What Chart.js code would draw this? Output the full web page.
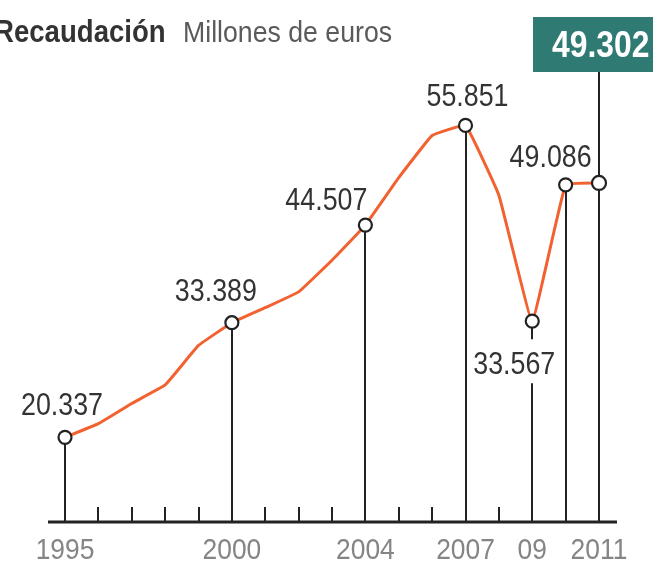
<!DOCTYPE html>
<html>
<head>
<meta charset="utf-8">
<script src="https://cdn.jsdelivr.net/npm/chart.js@4.4.1/dist/chart.umd.min.js"></script>
<style>
  html, body { margin: 0; padding: 0; background: #fff; }
  canvas { display: block; }
</style>
</head>
<body>
<canvas id="grafico" width="653" height="561"></canvas>
<script>
// Recaudación, millones de euros (miles en el gráfico)
const years = [1995, 1996, 1997, 1998, 1999, 2000, 2001, 2002, 2003, 2004, 2005, 2006, 2007, 2008, 2009, 2010, 2011];
const recaudacion = [20.337, 21.9, 24.2, 26.3, 30.8, 33.389, 35.1, 36.9, 40.5, 44.507, 49.9, 54.7, 55.851, 47.9, 33.567, 49.086, 49.302];
const labeledYears = [1995, 2000, 2004, 2007, 2009, 2010, 2011];
const tickYears = [1995, 2000, 2004, 2007, 2009, 2011];
const tickLabels = ['1995', '2000', '2004', '2007', '09', '2011'];
const highlightYear = 2011;

// desplazamiento de las etiquetas respecto al punto (dx, dy hasta la línea base)
const labelOffsets = {
    1995: [-3, -22],
    2000: [-16, -22],
    2004: [-39, -15],
    2007: [2, -19],
    2009: [-18, 53],
    2010: [-15, -18],
};

const ctx = document.getElementById('grafico').getContext('2d');

function fmt(v) {
    return v.toFixed(3);
}

// texto estrecho (simula una fuente condensada)
function narrowText(c, text, x, y, font, color, align, sx) {
    c.save();
    c.font = font;
    c.fillStyle = color;
    c.textAlign = 'left';
    c.textBaseline = 'alphabetic';
    const w = c.measureText(text).width * sx;
    let left = x;
    if (align === 'center') left = x - w / 2;
    if (align === 'right') left = x - w;
    c.translate(left, y);
    c.scale(sx, 1);
    c.fillText(text, 0, 0);
    c.restore();
}

const decoraciones = {
    id: 'decoraciones',
    beforeDatasetsDraw(chart) {
        const c = chart.ctx;
        const xs = chart.scales.x;
        const ys = chart.scales.y;
        const base = ys.getPixelForValue(ys.min);
        c.save();
        c.strokeStyle = '#222';
        c.lineCap = 'butt';
        // líneas verticales y marcas menores
        years.forEach((yr, i) => {
            const x = Math.round(xs.getPixelForValue(yr));
            c.lineWidth = 2;
            c.beginPath();
            if (labeledYears.includes(yr)) {
                const py = ys.getPixelForValue(recaudacion[i]);
                if (yr === 2009) {
                    c.moveTo(x, py);
                    c.lineTo(x, py + 18);
                    c.moveTo(x, py + 62);
                    c.lineTo(x, base);
                } else if (yr === highlightYear) {
                    c.moveTo(x, 72);
                    c.lineTo(x, base);
                } else {
                    c.moveTo(x, py);
                    c.lineTo(x, base);
                }
            } else {
                c.moveTo(x, base - 15);
                c.lineTo(x, base);
            }
            c.stroke();
        });
        // eje
        c.lineWidth = 3;
        c.beginPath();
        c.moveTo(xs.getPixelForValue(1995) - 17, base);
        c.lineTo(xs.getPixelForValue(2011) + 18, base);
        c.stroke();
        c.restore();

        tickYears.forEach((yr, i) => {
            narrowText(c, tickLabels[i], xs.getPixelForValue(yr), base + 37,
                '30px "Liberation Sans", Arial, sans-serif', '#858585', 'center', 0.88);
        });
    },
    afterDatasetsDraw(chart) {
        const c = chart.ctx;
        const xs = chart.scales.x;
        const ys = chart.scales.y;
        years.forEach((yr, i) => {
            const off = labelOffsets[yr];
            if (!off) return;
            const x = xs.getPixelForValue(yr);
            const y = ys.getPixelForValue(recaudacion[i]);
            narrowText(c, fmt(recaudacion[i]), x + off[0], y + off[1],
                '31px "Liberation Sans", Arial, sans-serif', '#333', 'center', 0.865);
        });

        // recuadro destacado
        const hx = xs.getPixelForValue(highlightYear);
        const hv = recaudacion[years.indexOf(highlightYear)];
        c.save();
        c.fillStyle = '#2f7b74';
        c.fillRect(hx - 66, 17, 140, 55);
        c.restore();
        narrowText(c, fmt(hv), hx - 47, 57,
            'bold 37px "Liberation Sans", Arial, sans-serif', '#fff', 'left', 0.86);

        // título
        narrowText(c, 'Recaudación', -6, 42,
            'bold 31px "Liberation Sans", Arial, sans-serif', '#333', 'left', 0.89);
        narrowText(c, 'Millones de euros', 183, 42,
            '29px "Liberation Sans", Arial, sans-serif', '#5a5a5a', 'left', 0.92);
    }
};

const chart = new Chart(ctx, {
    type: 'line',
    data: {
        datasets: [{
            data: years.map((yr, i) => ({ x: yr, y: recaudacion[i] })),
            borderColor: '#f26130',
            borderWidth: 3,
            tension: 0.08,
            fill: false,
            clip: false,
            pointRadius: years.map((yr) => (labeledYears.includes(yr) ? (yr === highlightYear ? 7 : 6.5) : 0)),
            pointBackgroundColor: '#fff',
            pointBorderColor: '#222',
            pointBorderWidth: 2.2,
        }],
    },
    options: {
        responsive: false,
        animation: false,
        devicePixelRatio: 1,
        layout: { padding: { left: 65, right: 54, top: 89, bottom: 39 } },
        plugins: { legend: { display: false }, tooltip: { enabled: false } },
        scales: {
            x: { type: 'linear', min: 1995, max: 2011, display: false },
            y: { min: 10.7, max: 60, display: false },
        },
    },
    plugins: [decoraciones],
});
</script>
</body>
</html>
